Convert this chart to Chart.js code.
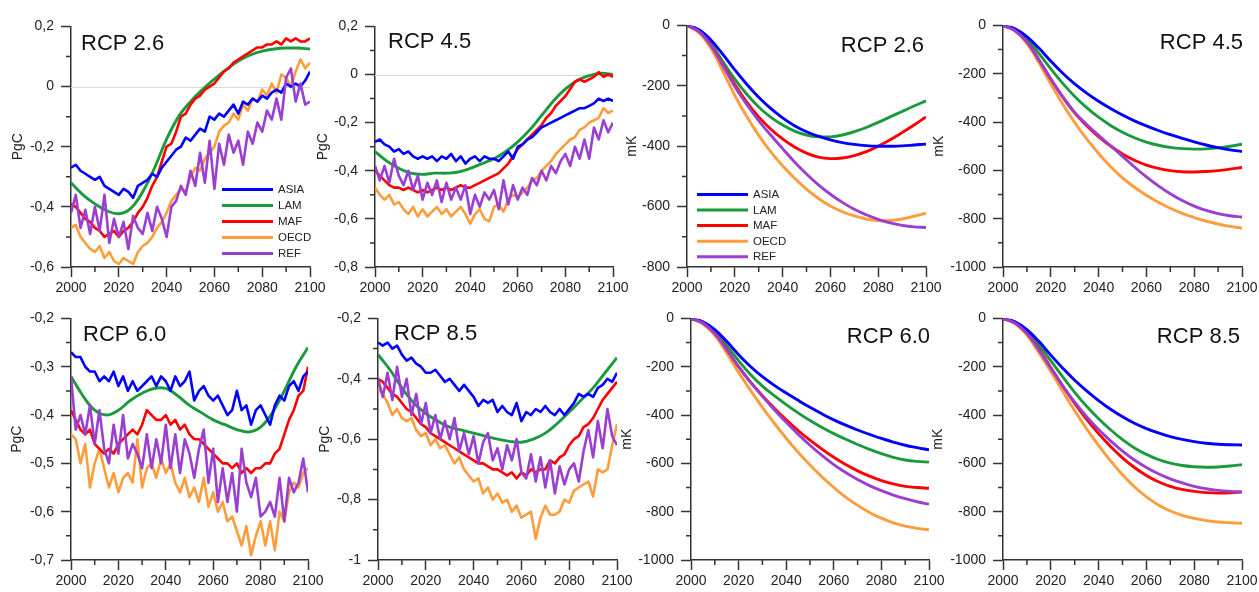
<!DOCTYPE html>
<html>
<head>
<meta charset="utf-8">
<script src="https://cdn.jsdelivr.net/npm/chart.js@4.4.1/dist/chart.umd.min.js"></script>
<style>
  html, body { margin: 0; padding: 0; background: #fff; }
  #wrap { position: relative; width: 1259px; height: 592px; overflow: hidden; }
  #wrap canvas { position: absolute; }
</style>
</head>
<body>
<div id="wrap"></div>
<script>
// years
const yearsFlux = [2000,2002,2004,2006,2008,2010,2012,2014,2016,2018,
  2020,2022,2024,2026,2028,2030,2032,2034,2036,2038,
  2040,2042,2044,2046,2048,2050,2052,2054,2056,2058,
  2060,2062,2064,2066,2068,2070,2072,2074,2076,2078,
  2080,2082,2084,2086,2088,2090,2092,2094,2096,2098,2100];
const yearsSmooth = [2000,2005,2010,2015,2020,2025,2030,2035,2040,2045,2050,
  2055,2060,2065,2070,2075,2080,2085,2090,2095,2100];

const regions = ["ASIA", "LAM", "MAF", "OECD", "REF"];
const colors = ["#0000ff", "#1a9a3c", "#ff0000", "#ff9d3d", "#9a3fd0"];

// PgC, RCP 2.6
const fluxAsia26 = [-0.27,-0.26,-0.28,-0.29,-0.30,-0.31,-0.30,-0.33,-0.34,-0.35,
  -0.36,-0.34,-0.35,-0.37,-0.33,-0.32,-0.31,-0.29,-0.30,-0.27,
  -0.25,-0.23,-0.21,-0.20,-0.17,-0.18,-0.16,-0.14,-0.15,-0.10,
  -0.11,-0.09,-0.10,-0.08,-0.06,-0.09,-0.05,-0.06,-0.04,-0.05,
  -0.03,-0.04,-0.02,-0.01,-0.02,0.01,0.00,0.01,0.00,0.02,0.05];
const fluxLam26 = [-0.32,-0.36,-0.39,-0.413,-0.423,-0.405,-0.35,-0.27,-0.175,-0.10,-0.05,
  -0.01,0.025,0.057,0.085,0.105,0.118,0.125,0.128,0.128,0.125];
const fluxMaf26 = [-0.39,-0.40,-0.42,-0.44,-0.45,-0.47,-0.48,-0.50,-0.49,-0.48,
  -0.50,-0.48,-0.47,-0.45,-0.42,-0.40,-0.37,-0.33,-0.30,-0.25,
  -0.20,-0.19,-0.15,-0.10,-0.09,-0.06,-0.04,-0.03,-0.01,0.00,
  0.01,0.03,0.05,0.06,0.08,0.09,0.10,0.11,0.12,0.13,
  0.13,0.14,0.14,0.15,0.14,0.16,0.15,0.16,0.15,0.15,0.16];
const fluxOecd26 = [-0.47,-0.46,-0.50,-0.52,-0.54,-0.55,-0.53,-0.57,-0.55,-0.58,
  -0.59,-0.57,-0.58,-0.59,-0.55,-0.53,-0.52,-0.50,-0.47,-0.45,
  -0.42,-0.38,-0.36,-0.34,-0.35,-0.30,-0.27,-0.28,-0.24,-0.22,
  -0.20,-0.15,-0.13,-0.12,-0.09,-0.11,-0.06,-0.08,-0.04,-0.05,
  -0.01,-0.03,0.01,-0.02,0.04,0.03,0.00,0.05,0.09,0.06,0.08];
const fluxRef26 = [-0.42,-0.36,-0.47,-0.41,-0.49,-0.40,-0.48,-0.36,-0.52,-0.44,
  -0.50,-0.45,-0.54,-0.43,-0.47,-0.49,-0.42,-0.48,-0.40,-0.44,
  -0.50,-0.40,-0.38,-0.33,-0.36,-0.28,-0.33,-0.22,-0.32,-0.18,
  -0.34,-0.19,-0.26,-0.16,-0.22,-0.18,-0.26,-0.15,-0.19,-0.12,
  -0.15,-0.08,-0.11,-0.04,-0.11,0.03,0.06,-0.05,0.01,-0.06,-0.05];

// PgC, RCP 4.5
const fluxAsia45 = [-0.28,-0.27,-0.29,-0.30,-0.32,-0.31,-0.33,-0.32,-0.34,-0.35,
  -0.34,-0.35,-0.34,-0.36,-0.34,-0.35,-0.33,-0.36,-0.34,-0.37,
  -0.35,-0.34,-0.36,-0.34,-0.35,-0.35,-0.36,-0.34,-0.32,-0.35,
  -0.30,-0.29,-0.27,-0.26,-0.24,-0.22,-0.21,-0.20,-0.19,-0.18,
  -0.17,-0.16,-0.15,-0.14,-0.14,-0.13,-0.12,-0.10,-0.11,-0.10,-0.11];
const fluxLam45 = [-0.32,-0.36,-0.39,-0.41,-0.415,-0.41,-0.41,-0.405,-0.39,-0.37,-0.35,
  -0.32,-0.28,-0.23,-0.17,-0.11,-0.06,-0.025,-0.005,0.005,0.00];
const fluxMaf45 = [-0.40,-0.42,-0.44,-0.46,-0.47,-0.47,-0.48,-0.47,-0.48,-0.49,
  -0.48,-0.49,-0.48,-0.47,-0.48,-0.47,-0.48,-0.47,-0.46,-0.47,
  -0.47,-0.46,-0.45,-0.44,-0.43,-0.42,-0.41,-0.39,-0.37,-0.34,
  -0.31,-0.29,-0.27,-0.25,-0.23,-0.21,-0.18,-0.16,-0.13,-0.11,
  -0.09,-0.06,-0.03,-0.02,-0.03,-0.02,-0.01,0.01,-0.01,0.00,-0.01];
const fluxOecd45 = [-0.47,-0.50,-0.52,-0.50,-0.54,-0.53,-0.56,-0.58,-0.55,-0.59,
  -0.56,-0.59,-0.57,-0.55,-0.58,-0.56,-0.59,-0.57,-0.55,-0.58,
  -0.62,-0.58,-0.56,-0.60,-0.61,-0.55,-0.54,-0.57,-0.52,-0.50,
  -0.51,-0.49,-0.47,-0.44,-0.43,-0.40,-0.38,-0.36,-0.33,-0.31,
  -0.29,-0.27,-0.26,-0.23,-0.22,-0.20,-0.19,-0.18,-0.14,-0.16,-0.15];
const fluxRef45 = [-0.38,-0.44,-0.38,-0.45,-0.35,-0.42,-0.46,-0.40,-0.48,-0.42,
  -0.52,-0.45,-0.50,-0.44,-0.53,-0.45,-0.52,-0.47,-0.52,-0.46,
  -0.58,-0.50,-0.55,-0.49,-0.52,-0.48,-0.56,-0.44,-0.54,-0.46,
  -0.52,-0.47,-0.50,-0.43,-0.46,-0.40,-0.44,-0.38,-0.41,-0.36,
  -0.33,-0.38,-0.30,-0.35,-0.27,-0.35,-0.22,-0.27,-0.19,-0.24,-0.20];

// PgC, RCP 6.0
const fluxAsia60 = [-0.27,-0.28,-0.28,-0.30,-0.31,-0.31,-0.33,-0.32,-0.33,-0.31,
  -0.34,-0.32,-0.35,-0.33,-0.35,-0.34,-0.33,-0.32,-0.34,-0.32,
  -0.33,-0.35,-0.32,-0.34,-0.33,-0.31,-0.37,-0.35,-0.34,-0.36,
  -0.37,-0.36,-0.38,-0.40,-0.39,-0.35,-0.39,-0.38,-0.42,-0.39,
  -0.38,-0.40,-0.42,-0.38,-0.36,-0.37,-0.34,-0.33,-0.35,-0.32,-0.31];
const fluxLam60 = [-0.32,-0.36,-0.39,-0.40,-0.39,-0.37,-0.355,-0.345,-0.345,-0.36,-0.38,
  -0.395,-0.41,-0.42,-0.43,-0.435,-0.425,-0.395,-0.35,-0.30,-0.26];
const fluxMaf60 = [-0.39,-0.41,-0.43,-0.44,-0.43,-0.46,-0.47,-0.48,-0.47,-0.48,
  -0.46,-0.45,-0.44,-0.43,-0.44,-0.42,-0.39,-0.40,-0.41,-0.41,
  -0.40,-0.42,-0.41,-0.43,-0.42,-0.44,-0.45,-0.45,-0.46,-0.47,
  -0.48,-0.49,-0.50,-0.50,-0.51,-0.50,-0.52,-0.51,-0.52,-0.51,
  -0.51,-0.50,-0.50,-0.48,-0.47,-0.44,-0.41,-0.39,-0.36,-0.35,-0.30];
const fluxOecd60 = [-0.44,-0.45,-0.50,-0.46,-0.55,-0.50,-0.47,-0.51,-0.55,-0.52,
  -0.56,-0.53,-0.52,-0.54,-0.45,-0.55,-0.51,-0.50,-0.53,-0.49,
  -0.52,-0.50,-0.54,-0.56,-0.53,-0.57,-0.55,-0.58,-0.53,-0.59,
  -0.56,-0.60,-0.58,-0.62,-0.61,-0.64,-0.67,-0.63,-0.69,-0.65,
  -0.62,-0.67,-0.62,-0.68,-0.60,-0.62,-0.56,-0.54,-0.55,-0.52,-0.51];
const fluxRef60 = [-0.32,-0.43,-0.40,-0.44,-0.38,-0.46,-0.39,-0.47,-0.50,-0.42,
  -0.48,-0.40,-0.49,-0.46,-0.48,-0.51,-0.44,-0.51,-0.45,-0.50,
  -0.42,-0.51,-0.44,-0.52,-0.45,-0.48,-0.53,-0.47,-0.43,-0.54,
  -0.47,-0.58,-0.51,-0.58,-0.52,-0.60,-0.47,-0.54,-0.57,-0.53,
  -0.61,-0.60,-0.58,-0.61,-0.53,-0.62,-0.53,-0.56,-0.54,-0.49,-0.56];

// PgC, RCP 8.5
const fluxAsia85 = [-0.28,-0.29,-0.28,-0.30,-0.29,-0.32,-0.34,-0.33,-0.35,-0.36,
  -0.38,-0.38,-0.37,-0.39,-0.41,-0.40,-0.42,-0.44,-0.42,-0.44,
  -0.46,-0.49,-0.47,-0.48,-0.47,-0.51,-0.49,-0.51,-0.52,-0.48,
  -0.54,-0.51,-0.52,-0.50,-0.51,-0.49,-0.51,-0.52,-0.50,-0.52,
  -0.50,-0.48,-0.45,-0.46,-0.45,-0.46,-0.43,-0.42,-0.40,-0.41,-0.38];
const fluxLam85 = [-0.32,-0.37,-0.43,-0.48,-0.515,-0.54,-0.56,-0.57,-0.58,-0.59,-0.60,
  -0.607,-0.61,-0.60,-0.58,-0.548,-0.51,-0.47,-0.43,-0.38,-0.33];
const fluxMaf85 = [-0.40,-0.41,-0.43,-0.45,-0.46,-0.48,-0.50,-0.51,-0.53,-0.55,
  -0.56,-0.58,-0.59,-0.60,-0.61,-0.62,-0.63,-0.64,-0.65,-0.66,
  -0.67,-0.68,-0.68,-0.69,-0.70,-0.70,-0.71,-0.72,-0.71,-0.73,
  -0.71,-0.72,-0.70,-0.71,-0.70,-0.70,-0.67,-0.68,-0.66,-0.65,
  -0.62,-0.60,-0.59,-0.56,-0.55,-0.53,-0.50,-0.47,-0.45,-0.43,-0.41];
const fluxOecd85 = [-0.43,-0.45,-0.48,-0.52,-0.50,-0.53,-0.54,-0.53,-0.57,-0.59,
  -0.58,-0.62,-0.60,-0.63,-0.62,-0.65,-0.68,-0.66,-0.70,-0.72,
  -0.74,-0.73,-0.78,-0.76,-0.80,-0.78,-0.81,-0.80,-0.84,-0.82,
  -0.86,-0.85,-0.84,-0.93,-0.86,-0.82,-0.85,-0.85,-0.84,-0.80,
  -0.81,-0.77,-0.76,-0.75,-0.74,-0.79,-0.70,-0.71,-0.70,-0.62,-0.55];
const fluxRef85 = [-0.40,-0.46,-0.38,-0.47,-0.36,-0.46,-0.40,-0.52,-0.45,-0.55,
  -0.48,-0.58,-0.52,-0.60,-0.54,-0.60,-0.53,-0.64,-0.58,-0.65,
  -0.59,-0.68,-0.61,-0.58,-0.67,-0.63,-0.70,-0.62,-0.67,-0.60,
  -0.71,-0.73,-0.65,-0.74,-0.66,-0.76,-0.67,-0.78,-0.69,-0.75,
  -0.70,-0.68,-0.74,-0.64,-0.57,-0.66,-0.54,-0.63,-0.50,-0.59,-0.62];

// mK, RCP 2.6
const tempAsia26 = [0,-14,-48,-96,-147,-195,-238,-275,-306,-332,-352,-367,-379,-388,-394,-398,-400,-400,-399,-396,-393];
const tempLam26  = [0,-18,-60,-120,-178,-228,-270,-304,-330,-350,-363,-369,-369,-363,-352,-338,-321,-303,-285,-267,-250];
const tempMaf26  = [0,-20,-65,-130,-196,-254,-303,-343,-376,-403,-423,-436,-441,-439,-431,-418,-400,-379,-355,-330,-303];
const tempOecd26 = [0,-24,-76,-152,-232,-302,-364,-418,-465,-506,-542,-573,-598,-617,-631,-641,-646,-646,-641,-632,-622];
const tempRef26  = [0,-20,-66,-133,-202,-262,-315,-363,-408,-452,-492,-528,-559,-586,-609,-627,-642,-654,-662,-667,-669];

// mK, RCP 4.5
const tempAsia45 = [0,-14,-46,-94,-148,-198,-242,-280,-314,-344,-371,-395,-416,-435,-452,-468,-482,-495,-506,-515,-522];
const tempLam45  = [0,-17,-56,-116,-180,-240,-294,-340,-380,-414,-442,-465,-483,-496,-505,-510,-512,-511,-507,-500,-492];
const tempMaf45  = [0,-21,-68,-142,-222,-296,-362,-415,-460,-499,-532,-558,-578,-592,-601,-606,-607,-605,-601,-595,-588];
const tempOecd45 = [0,-23,-74,-154,-242,-326,-402,-470,-530,-584,-631,-670,-703,-732,-757,-778,-795,-810,-822,-832,-839];
const tempRef45  = [0,-21,-68,-142,-222,-296,-360,-410,-455,-498,-542,-586,-627,-664,-697,-725,-748,-766,-779,-788,-793];

// mK, RCP 6.0
const tempAsia60 = [0,-14,-46,-95,-150,-199,-241,-277,-309,-339,-368,-395,-420,-442,-462,-480,-497,-512,-525,-535,-544];
const tempLam60  = [0,-17,-54,-112,-175,-232,-280,-320,-357,-391,-423,-451,-477,-500,-522,-542,-560,-575,-586,-592,-595];
const tempMaf60  = [0,-19,-62,-128,-200,-264,-320,-372,-420,-464,-504,-541,-575,-605,-631,-653,-671,-685,-695,-700,-703];
const tempOecd60 = [0,-22,-70,-144,-224,-298,-368,-434,-496,-554,-607,-656,-700,-740,-774,-803,-827,-846,-860,-869,-875];
const tempRef60  = [0,-19,-62,-128,-200,-264,-322,-378,-430,-479,-525,-567,-605,-638,-667,-692,-713,-731,-746,-759,-769];

// mK, RCP 8.5
const tempAsia85 = [0,-14,-46,-95,-152,-206,-256,-300,-340,-376,-407,-434,-456,-474,-489,-501,-510,-517,-521,-523,-524];
const tempLam85  = [0,-16,-53,-110,-175,-242,-306,-364,-415,-461,-502,-536,-563,-584,-599,-609,-614,-616,-615,-611,-605];
const tempMaf85  = [0,-19,-61,-127,-203,-280,-352,-418,-477,-530,-577,-617,-650,-676,-695,-708,-716,-721,-723,-722,-718];
const tempOecd85 = [0,-21,-69,-142,-220,-302,-382,-457,-526,-590,-647,-697,-739,-772,-797,-815,-828,-837,-843,-846,-848];
const tempRef85  = [0,-19,-62,-130,-205,-279,-347,-407,-460,-507,-549,-586,-617,-643,-664,-681,-695,-705,-712,-716,-718];

const FONT = "'Liberation Sans', Arial, sans-serif";
Chart.defaults.font.family = FONT;

// number format with decimal comma
const fmt = v => String(Math.round(v * 1000) / 1000).replace(".", ",");

// titles, legend, minor ticks, zero line
const deco = {
  id: "deco",
  beforeDatasetsDraw(chart, args, o) {
    const { ctx, chartArea: a, scales: { y } } = chart;
    if (o.zeroLine) {
      const py = Math.round(y.getPixelForValue(0)) + 0.5;
      ctx.save();
      ctx.strokeStyle = "#d9d9d9";
      ctx.lineWidth = 1;
      ctx.beginPath();
      ctx.moveTo(a.left, py);
      ctx.lineTo(a.right, py);
      ctx.stroke();
      ctx.restore();
    }
  },
  afterDraw(chart, args, o) {
    const { ctx, chartArea: a, scales: { x, y } } = chart;
    ctx.save();
    // minor ticks
    ctx.strokeStyle = "#333";
    ctx.lineWidth = 1.5;
    ctx.beginPath();
    for (let v = 2010; v < 2100; v += 20) {
      const px = x.getPixelForValue(v);
      ctx.moveTo(px, a.bottom);
      ctx.lineTo(px, a.bottom + 5);
    }
    const n = Math.round((y.max - y.min) / o.minorY);
    for (let k = 1; k < n; k += 2) {
      const py = y.getPixelForValue(y.min + k * o.minorY);
      ctx.moveTo(a.left, py);
      ctx.lineTo(a.left - 5, py);
    }
    ctx.stroke();

    // panel title
    ctx.fillStyle = "#111";
    ctx.font = "22px " + FONT;
    ctx.textBaseline = "alphabetic";
    ctx.textAlign = o.titleAlign;
    const tx = o.titleAlign === "left" ? a.left + o.titleDx : a.right + o.titleDx;
    ctx.fillText(o.title, tx, a.top + o.titleDy);

    // legend
    if (o.legend) {
      ctx.font = "11.5px " + FONT;
      ctx.textAlign = "left";
      ctx.textBaseline = "middle";
      ctx.lineWidth = 3;
      regions.forEach((r, i) => {
        const ly = a.top + o.legend.y + i * o.legend.step;
        ctx.strokeStyle = colors[i];
        ctx.beginPath();
        ctx.moveTo(a.left + o.legend.x, ly);
        ctx.lineTo(a.left + o.legend.x + 51, ly);
        ctx.stroke();
        ctx.fillStyle = "#222";
        ctx.fillText(r, a.left + o.legend.x + 56, ly + 0.5);
      });
    }
    ctx.restore();
  }
};

// REF on top, then ASIA, MAF, OECD, LAM
const drawOrder = [1, 4, 2, 3, 0];

function makePanel(p) {
  const padL = 80, padT = 12, padR = 25, padB = 32;
  const w = p.R - p.L + padL + padR;
  const h = p.B - p.T + padT + padB;
  const canvas = document.createElement("canvas");
  canvas.width = w;
  canvas.height = h;
  canvas.style.left = (p.L - padL) + "px";
  canvas.style.top = (p.T - padT) + "px";
  canvas.style.width = w + "px";
  canvas.style.height = h + "px";
  document.getElementById("wrap").appendChild(canvas);

  const datasets = p.series.map((vals, i) => {
    // temperature curves and LAM carbon curves are smooth 5-year series
    const smooth = p.kind === "temp" || i === 1;
    const yrs = smooth ? yearsSmooth : yearsFlux;
    return {
      label: regions[i],
      data: vals.map((v, j) => ({ x: yrs[j], y: v })),
      borderColor: colors[i],
      borderWidth: smooth ? 2.9 : 2.6,
      pointRadius: 0,
      fill: false,
      tension: smooth ? 0.4 : 0,
      borderJoinStyle: "round",
      order: drawOrder[i]
    };
  });

  new Chart(canvas, {
    type: "line",
    data: { datasets },
    options: {
      responsive: false,
      animation: false,
      events: [],
      layout: { padding: { left: 0, top: padT, right: padR, bottom: 0 } },
      plugins: {
        legend: { display: false },
        tooltip: { enabled: false },
        deco: {
          title: p.title, titleAlign: p.titleAlign, titleDx: p.titleDx, titleDy: p.titleDy,
          legend: p.legend || null, zeroLine: !!p.zeroLine, minorY: p.step / 2
        }
      },
      scales: {
        x: {
          type: "linear", min: 2000, max: 2100,
          ticks: { stepSize: 20, callback: v => String(v), maxRotation: 0, autoSkip: false,
                   color: "#222", font: { size: 14 }, padding: 3 },
          grid: { drawOnChartArea: false, tickLength: 10, tickColor: "#333", tickWidth: 1.5 },
          border: { color: "#333", width: 1.5 },
          afterFit(s) { s.height = padB; }
        },
        y: {
          type: "linear", min: p.min, max: p.max,
          ticks: { stepSize: p.step, callback: v => fmt(v), color: "#222", font: { size: 14 }, padding: 7 },
          grid: { drawOnChartArea: false, tickLength: 10, tickColor: "#333", tickWidth: 1.5 },
          border: { color: "#333", width: 1.5 },
          title: { display: true, text: p.unit, color: "#222", font: { size: 14 },
                   padding: { top: p.unitPad, bottom: 0 } },
          afterFit(s) { s.width = padL; }
        }
      }
    },
    plugins: [deco]
  });
}

const panels = [
  { L: 71, T: 23, R: 310, B: 267, kind: "flux", unit: "PgC", unitPad: 18.6, min: -0.6, max: 0.2, step: 0.2,
    series: [fluxAsia26, fluxLam26, fluxMaf26, fluxOecd26, fluxRef26],
    title: "RCP 2.6", titleAlign: "left", titleDx: 10, titleDy: 24, zeroLine: true,
    legend: { x: 151, y: 163, step: 16 } },
  { L: 375, T: 23, R: 613, B: 267, kind: "flux", unit: "PgC", unitPad: 19.6, min: -0.8, max: 0.2, step: 0.2,
    series: [fluxAsia45, fluxLam45, fluxMaf45, fluxOecd45, fluxRef45],
    title: "RCP 4.5", titleAlign: "left", titleDx: 13, titleDy: 22, zeroLine: true },
  { L: 687, T: 22, R: 926, B: 267, kind: "temp", unit: "mK", unitPad: 16.6, min: -800, max: 0, step: 200,
    series: [tempAsia26, tempLam26, tempMaf26, tempOecd26, tempRef26],
    title: "RCP 2.6", titleAlign: "right", titleDx: -2, titleDy: 27,
    legend: { x: 10, y: 169, step: 15.6 } },
  { L: 1003, T: 22, R: 1242, B: 267, kind: "temp", unit: "mK", unitPad: 7.6, min: -1000, max: 0, step: 200,
    series: [tempAsia45, tempLam45, tempMaf45, tempOecd45, tempRef45],
    title: "RCP 4.5", titleAlign: "right", titleDx: 1, titleDy: 24 },
  { L: 71, T: 315, R: 308, B: 560, kind: "flux", unit: "PgC", unitPad: 17.6, min: -0.7, max: -0.2, step: 0.1,
    series: [fluxAsia60, fluxLam60, fluxMaf60, fluxOecd60, fluxRef60],
    title: "RCP 6.0", titleAlign: "left", titleDx: 12, titleDy: 23 },
  { L: 378, T: 315, R: 617, B: 560, kind: "flux", unit: "PgC", unitPad: 18.6, min: -1, max: -0.2, step: 0.2,
    series: [fluxAsia85, fluxLam85, fluxMaf85, fluxOecd85, fluxRef85],
    title: "RCP 8.5", titleAlign: "left", titleDx: 16, titleDy: 22 },
  { L: 691, T: 315, R: 929, B: 560, kind: "temp", unit: "mK", unitPad: 7.6, min: -1000, max: 0, step: 200,
    series: [tempAsia60, tempLam60, tempMaf60, tempOecd60, tempRef60],
    title: "RCP 6.0", titleAlign: "right", titleDx: 1, titleDy: 25 },
  { L: 1003, T: 315, R: 1242, B: 560, kind: "temp", unit: "mK", unitPad: 6.6, min: -1000, max: 0, step: 200,
    series: [tempAsia85, tempLam85, tempMaf85, tempOecd85, tempRef85],
    title: "RCP 8.5", titleAlign: "right", titleDx: -2, titleDy: 25 }
];

panels.forEach(makePanel);
</script>
</body>
</html>
